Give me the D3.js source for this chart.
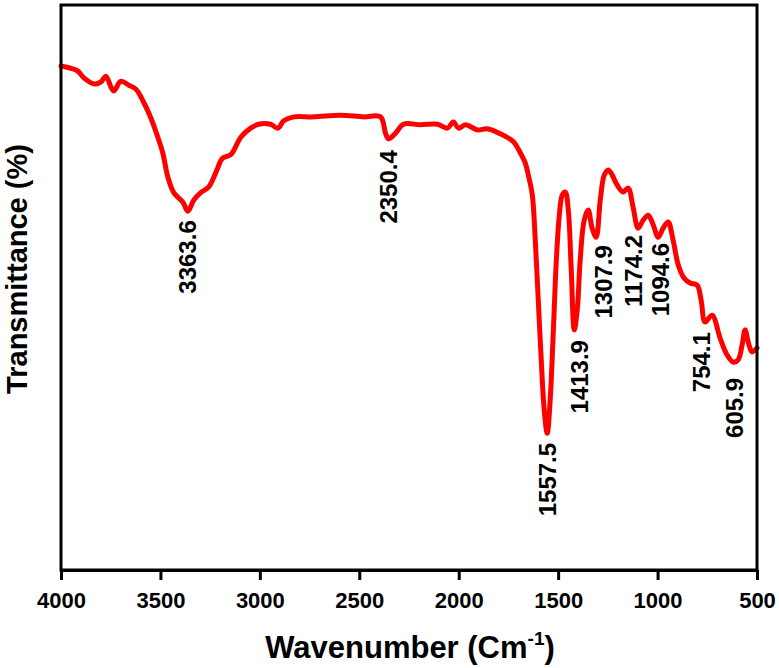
<!DOCTYPE html>
<html>
<head>
<meta charset="utf-8">
<script src="https://cdn.jsdelivr.net/npm/d3@7"></script>
<style>
  html, body { margin: 0; padding: 0; background: #fff; }
  svg { display: block; font-family: "Liberation Sans", Arial, sans-serif; }
</style>
</head>
<body>
<script>
// FTIR spectrum
var wavenumber = [4000, 3950, 3915, 3885, 3829, 3799, 3774, 3749, 3734, 3699, 3659, 3623, 3583, 3548, 3513, 3488,
  3463, 3433, 3387, 3362, 3332, 3297, 3257, 3222, 3187, 3146, 3096, 3046, 3006, 2946, 2910, 2880, 2830, 2730,
  2594, 2478, 2393, 2368, 2353, 2318, 2278, 2192, 2107, 2057, 2027, 2001, 1966, 1906, 1856, 1791, 1725, 1690,
  1665, 1650, 1630, 1615, 1600, 1585, 1570, 1555, 1540, 1524, 1509, 1494, 1479, 1464, 1449, 1434, 1419, 1404,
  1389, 1369, 1349, 1329, 1309, 1288, 1268, 1248, 1228, 1203, 1173, 1148, 1123, 1098, 1073, 1047, 1022, 997,
  972, 947, 922, 896, 867, 836, 801, 781, 761, 726, 686, 651, 620, 595, 575, 560, 540, 525, 500];
var transmittance = [89.2, 88.8, 88.3, 87.1, 86.0, 86.4, 87.4, 85.5, 84.8, 86.5, 85.8, 85.1, 82.7, 80.0, 76.6, 73.8,
  69.6, 66.8, 65.1, 63.5, 65.5, 66.8, 67.8, 70.3, 72.9, 73.5, 76.6, 78.2, 78.9, 78.9, 78.2, 79.5, 80.2, 80.2,
  80.5, 80.2, 80.2, 77.3, 76.3, 77.3, 78.9, 78.8, 78.9, 78.2, 79.3, 78.2, 78.8, 77.9, 78.1, 77.2, 75.8, 73.8,
  72.0, 69.9, 66.4, 58.4, 47.8, 37.2, 28.3, 24.2, 30.1, 42.5, 54.9, 62.8, 66.4, 66.9, 63.7, 53.1, 42.5, 46.0,
  54.9, 61.9, 63.7, 60.5, 58.9, 65.5, 69.9, 70.8, 69.9, 68.1, 66.9, 67.6, 64.2, 60.5, 61.9, 62.8, 61.1, 58.9,
  60.5, 61.6, 58.4, 54.0, 51.7, 50.8, 50.4, 47.8, 43.9, 45.1, 41.1, 38.1, 36.8, 37.2, 39.8, 42.5, 39.8, 38.6, 39.3];

// peak annotations: text, where it sits (wavenumber), where the text starts (transmittance)
var peakLabels = ["3363.6", "2350.4", "1557.5", "1413.9", "1307.9", "1174.2", "1094.6", "754.1", "605.9"];
var peakWn = [3362, 2353, 1554, 1394, 1273, 1123, 987, 781, 615];
var peakT = [61.9, 74.3, 22.5, 40.7, 57.5, 59.3, 57.9, 42.1, 34.0];

var xTicks = [4000, 3500, 3000, 2500, 2000, 1500, 1000, 500];

var width = 779, height = 668;
var margin = { top: 5, right: 22, bottom: 98, left: 61 };

var svg = d3.select("body").append("svg")
  .attr("width", width)
  .attr("height", height);

var x = d3.scaleLinear().domain([4000, 500]).range([margin.left, width - margin.right]);
var y = d3.scaleLinear().domain([0, 100]).range([height - margin.bottom, margin.top]);

var data = wavenumber.map(function (w, i) { return { w: w, t: transmittance[i] }; });

var line = d3.line()
  .x(function (d) { return x(d.w); })
  .y(function (d) { return y(d.t); })
  .curve(d3.curveCatmullRom.alpha(0.5));

svg.append("path")
  .datum(data)
  .attr("fill", "none")
  .attr("stroke", "#ff0000")
  .attr("stroke-width", 5)
  .attr("stroke-linejoin", "round")
  .attr("stroke-linecap", "round")
  .attr("d", line);

// frame
svg.append("rect")
  .attr("x", margin.left)
  .attr("y", margin.top)
  .attr("width", width - margin.left - margin.right)
  .attr("height", height - margin.top - margin.bottom)
  .attr("fill", "none")
  .attr("stroke", "#000")
  .attr("stroke-width", 3);

var xAxis = svg.append("g")
  .attr("transform", "translate(0," + (height - margin.bottom) + ")")
  .call(d3.axisBottom(x).tickValues(xTicks).tickFormat(d3.format("d"))
    .tickSize(10).tickSizeOuter(0).tickPadding(12));
xAxis.select(".domain").attr("stroke-width", 3);
xAxis.selectAll(".tick line").attr("stroke-width", 3);
xAxis.selectAll(".tick text")
  .attr("font-size", 22)
  .attr("font-weight", "bold")
  .attr("font-family", "'Liberation Sans', Arial, sans-serif")
  .attr("fill", "#000");

// axis titles
var xTitle = svg.append("text")
  .attr("x", (margin.left + width - margin.right) / 2 + 1)
  .attr("y", 658)
  .attr("text-anchor", "middle")
  .attr("font-size", 31)
  .attr("font-weight", "bold");
xTitle.append("tspan").text("Wavenumber (Cm");
xTitle.append("tspan").attr("font-size", 19).attr("dy", -13).text("-1");
xTitle.append("tspan").attr("dy", 13).text(")");

svg.append("text")
  .attr("transform", "translate(27,269) rotate(-90)")
  .attr("text-anchor", "middle")
  .attr("font-size", 29)
  .attr("font-weight", "bold")
  .text("Transmittance (%)");

// peak labels
svg.append("g").selectAll("text")
  .data(peakLabels)
  .join("text")
  .attr("transform", function (d, i) { return "translate(" + x(peakWn[i]) + "," + y(peakT[i]) + ") rotate(-90)"; })
  .attr("text-anchor", "end")
  .attr("dy", "0.35em")
  .attr("font-size", 24)
  .attr("font-weight", "bold")
  .text(function (d) { return d; });
</script>
</body>
</html>
